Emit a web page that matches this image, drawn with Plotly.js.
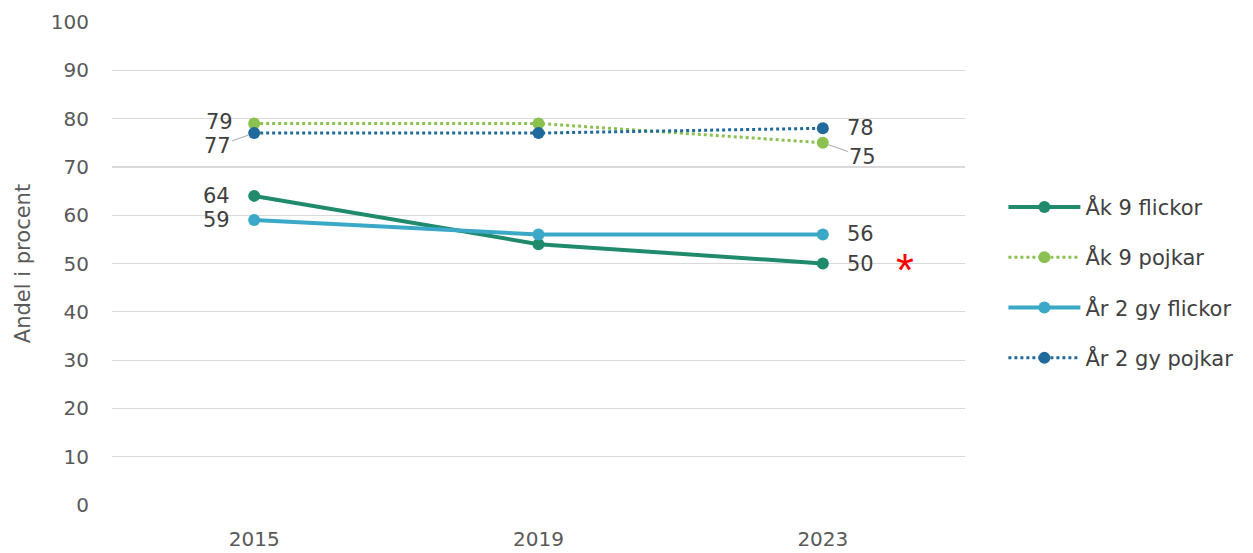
<!DOCTYPE html>
<html><head><meta charset="utf-8">
<script src="https://cdn.plot.ly/plotly-3.0.1.min.js"></script>
<style>body{margin:0;background:#fff}#c{width:1253px;height:553px}</style>
</head><body><div id="c"></div>
<script>
const years = ['2015','2019','2023'];
const ak9Flickor = [64, 54, 50];
const ak9Pojkar = [79, 79, 75];
const ar2Flickor = [59, 56, 56];
const ar2Pojkar = [77, 77, 78];
const seriesNames = ['Åk 9 flickor','Åk 9 pojkar','År 2 gy flickor','År 2 gy pojkar'];
const yTicks = [0,10,20,30,40,50,60,70,80,90,100];

const font = 'DejaVu Sans, Liberation Sans, sans-serif';
const colors = ['#1f8a6c','#8cc152','#3aa8c6','#1f6a9a'];
const series = [ak9Flickor, ak9Pojkar, ar2Flickor, ar2Pojkar];
const dashes = ['solid','dot','solid','dot'];
const widths = [4,3,4,3];

const traces = series.map((s,i)=>({
  x: years, y: s, name: seriesNames[i], type:'scatter', mode:'lines+markers',
  line:{color:colors[i], width:widths[i], dash:dashes[i]},
  marker:{color:colors[i], size:12, symbol:'circle'},
  legendgroup:'g'+i
}));

const annFont = {family:font, size:21, color:'#404040'};
function lab(xi, s, dx, dy, arrow){
  const a = {x: xi, y: s[xi], text: String(s[xi]), xref:'x', yref:'y', font: annFont};
  if (arrow) {
    a.showarrow = true; a.arrowhead = 0; a.arrowwidth = 1; a.arrowcolor = '#a6a6a6';
    a.ax = dx; a.ay = dy; a.standoff = 6;
  } else {
    a.showarrow = false; a.xshift = dx; a.yshift = -dy;
  }
  return a;
}
const annotations = [
  lab(0, ak9Pojkar, -35, -1, false),
  lab(0, ar2Pojkar, -37, 13, true),
  lab(0, ak9Flickor, -38, 0, false),
  lab(0, ar2Flickor, -38, 0, false),
  lab(2, ar2Pojkar, 38, 0, false),
  lab(2, ak9Pojkar, 40, 14, true),
  lab(2, ar2Flickor, 38, -1, false),
  lab(2, ak9Flickor, 38, 0, false),
  {x: 2, y: ak9Flickor[2], xref:'x', yref:'y', text:'*', showarrow:false,
   xshift:82, yshift:-6, font:{family:'Liberation Sans, sans-serif', size:46, color:'#ff0000'}}
];

const layout = {
  width:1253, height:553,
  margin:{l:112, r:288, t:22, b:48},
  paper_bgcolor:'#fff', plot_bgcolor:'#fff',
  font:{family:font, color:'#595959'},
  showlegend:true,
  legend:{x:1.045, y:0.46, xanchor:'left', yanchor:'middle', font:{family:font, size:21, color:'#404040'},
    tracegroupgap:20, itemwidth:72, bgcolor:'rgba(0,0,0,0)'},
  xaxis:{type:'category', showgrid:false, zeroline:false, showline:false,
    tickfont:{family:font, size:20, color:'#595959'}, ticklabelstandoff:20, range:[-0.5,2.5]},
  yaxis:{range:[0,100], tickvals:yTicks, showgrid:true, gridcolor:'#d9d9d9', gridwidth:1.2,
    zeroline:false, showline:false, tickfont:{family:font, size:20, color:'#595959'},
    ticklabelstandoff:22,
    title:{text:'Andel i procent', font:{family:font, size:21, color:'#595959'}, standoff:14}},
  annotations: annotations
};
Plotly.newPlot('c', traces, layout, {displayModeBar:false, staticPlot:true});
</script></body></html>
